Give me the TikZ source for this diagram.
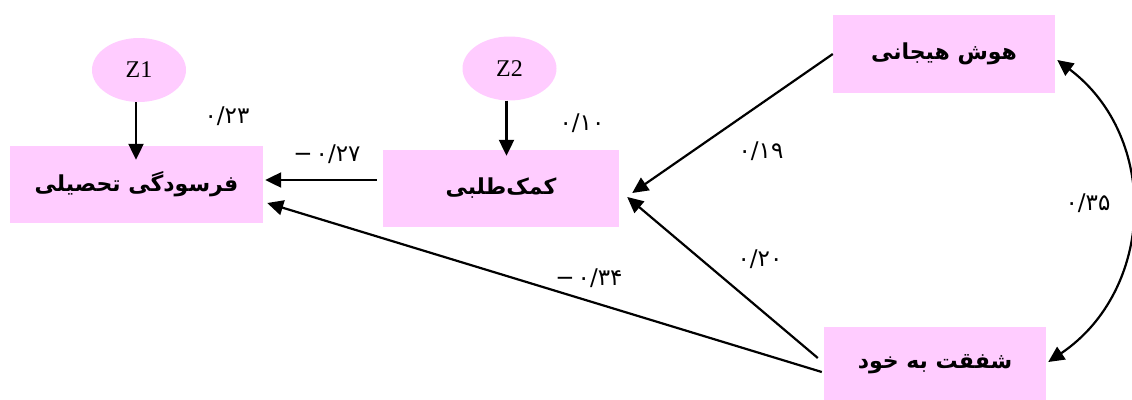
\documentclass[tikz,border=0pt]{standalone}
\usepackage{fontspec}
\usetikzlibrary{arrows.meta,shapes.geometric,calc}
\TeXXeTstate=1
\setmainfont{Liberation Serif}
\newfontfamily\fa[Script=Arabic]{DejaVu Sans}
\definecolor{boxpink}{RGB}{255,204,255}
\tikzset{
  varbox/.style={fill=boxpink, inner sep=0pt,
    font=\fa\bfseries\fontsize{22}{26}\selectfont},
  latent/.style={ellipse, fill=boxpink, inner sep=0pt,
    minimum width=94pt, minimum height=64pt,
    font=\fontsize{24}{28}\selectfont},
  effect/.style={line width=2.2pt, -{Triangle[length=16pt,width=15pt]}},
  corr/.style={line width=2.2pt, {Triangle[length=16pt,width=15pt]}-{Triangle[length=16pt,width=15pt]}},
  coef/.style={font=\fa\fontsize{23}{26}\selectfont, inner sep=0pt}
}
\begin{document}
\begin{tikzpicture}[x=1pt,y=-1pt]
\useasboundingbox (0,0) rectangle (1132,399);

% observed variables
\node[varbox, minimum width=253pt, minimum height=77pt] (burnout) at (136.5,184.5)
  {\beginR فرسودگی تحصیلی\endR};
\node[varbox, minimum width=236pt, minimum height=77pt] (help) at (501,188.5)
  {\beginR کمک^^^^200cطلبی\endR};
\node[varbox, minimum width=222pt, minimum height=78pt] (ei) at (944,54)
  {\beginR هوش هیجانی\endR};
\node[varbox, minimum width=222pt, minimum height=74pt] (sc) at (935,364)
  {\beginR شفقت به خود\endR};

% disturbance terms
\node[latent] (z1) at (139,70) {Z1};
\node[latent] (z2) at (509.5,68.5) {Z2};

% paths
\draw[effect] ($(z1.south)+(-3,0)$) -- ($(burnout.north)+(-0.5,14)$);
\draw[effect] ($(z2.south)+(-3,0)$) -- ($(help.north)+(5.5,6)$);
\draw[effect] ($(help.west)+(-6,-8.5)$) -- ($(burnout.east)+(2,-4.5)$);
\draw[effect] (ei.west) -- ($(help.east)+(13,4.5)$);
\draw[effect] ($(sc.west)+(-6,-6)$) -- ($(help.east)+(8,8.5)$);
\draw[effect] ($(sc.west)+(-2,8)$) -- ($(burnout.east)+(4,18.5)$);
\draw[corr] ($(ei.east)+(2,6)$) to[out=-37,in=34,looseness=1.09] ($(sc.east)+(2,-2)$);

% coefficients
\node[coef] (c1) at (227,116) {۰/۲۳};
\node[coef] (c2) at (582,123) {۰/۱۰};
\node[coef] (c3) at (327,154) {\mbox{−}\hspace{3pt}\mbox{۰/۲۷}};
\node[coef] (c4) at (761,151) {۰/۱۹};
\node[coef] (c5) at (760,259) {۰/۲۰};
\node[coef] (c6) at (589,278) {\mbox{−}\hspace{3pt}\mbox{۰/۳۴}};
\node[coef] (c7) at (1088,203) {۰/۳۵};
\end{tikzpicture}
\end{document}
